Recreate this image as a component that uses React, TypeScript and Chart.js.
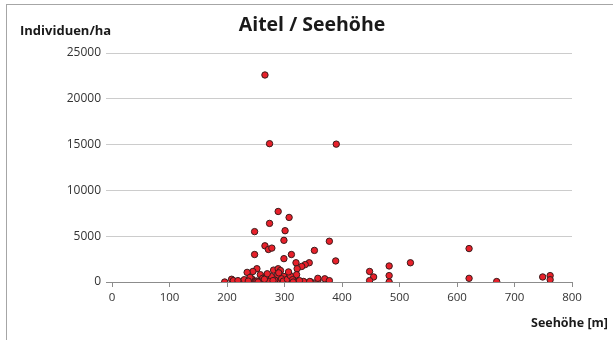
import { useEffect, useRef } from "react";
import { Chart, registerables } from "chart.js";

Chart.register(...registerables);

// Seehöhe [m]
const elevation = [
  266, 274, 390,
  289, 308, 274, 248, 301, 299, 378, 266, 272, 278, 248, 312, 352, 299, 389,
  320, 343, 336, 330, 322, 252, 245, 235, 281, 289, 293, 258, 267, 277, 299, 321,
  482, 519, 448, 455, 448, 482, 482, 621, 621, 669, 749, 762, 762,
  196, 208, 211, 219, 235, 243, 247, 260, 274, 285, 291, 303, 320, 334, 346, 358,
  358, 370, 378, 333, 344, 240, 250, 262, 270, 283, 288, 295, 298, 305, 310, 314,
  326, 315, 255, 230, 290, 307, 280, 265, 252, 237, 254,
];

// Individuen/ha
const density = [
  22600, 15100, 15050,
  7700, 7050, 6400, 5500, 5600, 4550, 4450, 3950, 3550, 3700, 3000, 3000, 3450, 2550, 2300,
  2100, 2100, 1900, 1700, 1450, 1450, 1150, 1050, 1300, 1450, 1250, 800, 600, 600, 600, 800,
  1750, 2100, 1150, 550, 150, 700, 0, 3650, 400, 50, 550, 700, 250,
  0, 300, 150, 150, 200, 350, 0, 200, 50, 0, 50, 50, 50, 0, 0, 150,
  400, 350, 150, 60, 60, 500, 100, 400, 900, 200, 800, 350, 100, 300, 700, 250,
  150, 0, 50, 250, 1000, 1100, 150, 300, 100, 100, 0,
];

const xTicks = [0, 100, 200, 300, 400, 500, 600, 700, 800];
const yTicks = [0, 5000, 10000, 15000, 20000, 25000];

const FONT = "'Open Sans', 'DejaVu Sans', sans-serif";

export default function App() {
  const ref = useRef<HTMLCanvasElement>(null);

  useEffect(() => {
    document.body.style.margin = "0";
    const frame = {
      id: "frame",
      beforeDraw(chart: any) {
        const ctx = chart.ctx;
        ctx.save();
        ctx.fillStyle = "#ffffff";
        ctx.fillRect(0, 0, chart.width, chart.height);
        ctx.strokeStyle = "#a6a6a6";
        ctx.lineWidth = 1;
        ctx.strokeRect(6.5, 4.5, 700, 400);
        ctx.restore();
      },
      afterDraw(chart: any) {
        const ctx = chart.ctx;
        ctx.save();
        ctx.fillStyle = "#1a1a1a";
        ctx.textBaseline = "middle";
        ctx.font = `bold 19.5px ${FONT}`;
        ctx.textAlign = "center";
        ctx.fillText("Aitel / Seehöhe", 312, 25);
        ctx.font = `bold 13px ${FONT}`;
        ctx.textAlign = "left";
        ctx.fillText("Individuen/ha", 20, 31);
        ctx.font = `bold 12.5px ${FONT}`;
        ctx.textAlign = "right";
        ctx.fillText("Seehöhe [m]", 608, 323);
        ctx.restore();
      },
    };

    const chart = new Chart(ref.current!, {
      type: "scatter",
      data: {
        datasets: [
          {
            data: elevation.map((x, i) => ({ x, y: density[i] })),
            backgroundColor: "#e8202a",
            borderColor: "#3a1c1c",
            borderWidth: 1,
            pointRadius: 3.2,
          },
        ],
      },
      options: {
        responsive: false,
        animation: false,
        layout: { padding: { left: 0, right: 41, top: 53, bottom: 0 } },
        plugins: { legend: { display: false }, tooltip: { enabled: false } },
        scales: {
          x: {
            type: "linear",
            min: 0,
            max: 800,
            afterBuildTicks: (s: any) => {
              s.ticks = xTicks.map((v) => ({ value: v }));
            },
            afterFit: (s: any) => {
              s.height = 58;
            },
            ticks: {
              color: "#333",
              font: { family: FONT, size: 11.5 },
              padding: 4,
              maxRotation: 0,
              callback: (v: any) => String(v),
            },
            grid: { drawOnChartArea: false, color: "#8c8c8c", tickLength: 5 },
            border: { color: "#8c8c8c" },
          },
          y: {
            min: 0,
            max: 25000,
            afterBuildTicks: (s: any) => {
              s.ticks = yTicks.map((v) => ({ value: v }));
            },
            afterFit: (s: any) => {
              s.width = 112;
            },
            ticks: {
              color: "#333",
              font: { family: FONT, size: 12 },
              padding: 5,
              callback: (v: any) => String(v),
            },
            grid: {
              color: (c: any) => (c.tick && c.tick.value === 0 ? "#8c8c8c" : "#cccccc"),
              tickLength: 6,
            },
            border: { display: false },
          },
        },
      },
      plugins: [frame],
    });
    return () => chart.destroy();
  }, []);

  return <canvas ref={ref} width={613} height={340} style={{ display: "block" }} />;
}
